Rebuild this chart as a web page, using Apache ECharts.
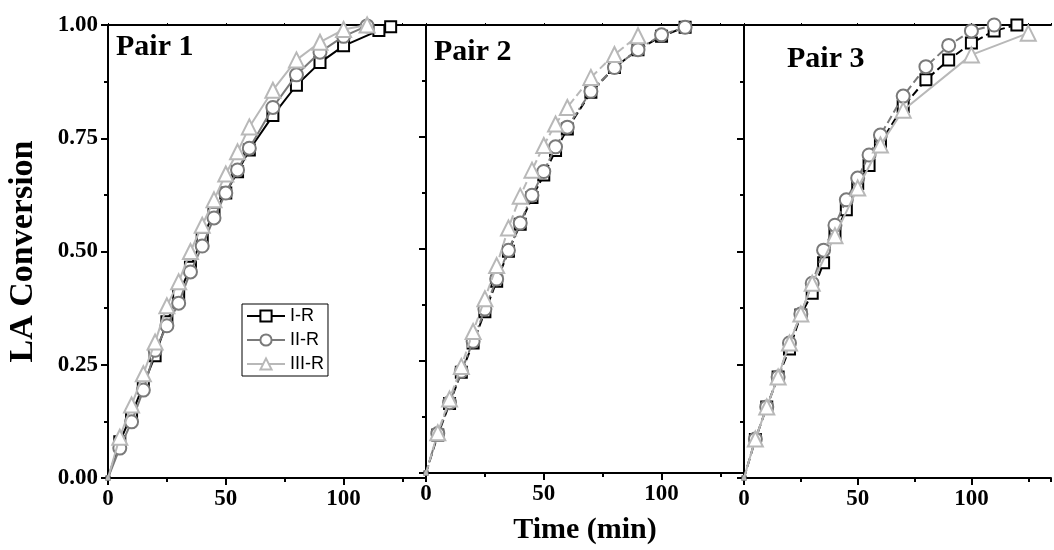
<!DOCTYPE html>
<html><head><meta charset="utf-8">
<script src="https://cdn.jsdelivr.net/npm/echarts@6/dist/echarts.min.js"></script>
<style>html,body{margin:0;padding:0;background:#fff}#c{width:1054px;height:550px}</style>
</head><body><div id="c"></div>
<script>
// ---- data ----
const seriesNames = ['I-R', 'II-R', 'III-R'];
const panelTitles = ['Pair 1', 'Pair 2', 'Pair 3'];
const yTicks = [0, 0.25, 0.5, 0.75, 1.0];
const xTicks = [0, 50, 100];

// Pair 1
const p1_t_I   = [0,5,10,15,20,25,30,35,40,45,50,55,60,70,80,90,100,115,120];
const p1_I     = [0,0.08,0.14,0.205,0.27,0.345,0.405,0.465,0.53,0.585,0.629,0.676,0.724,0.80,0.867,0.917,0.954,0.988,0.996];
const p1_t_II  = [0,5,10,15,20,25,30,35,40,45,50,55,60,70,80,90,100,110];
const p1_II    = [0,0.066,0.124,0.194,0.282,0.336,0.386,0.455,0.512,0.574,0.629,0.68,0.728,0.818,0.89,0.94,0.975,0.998];
const p1_t_III = [0,5,10,15,20,25,30,35,40,45,50,55,60,70,80,90,100,110];
const p1_III   = [0,0.09,0.161,0.23,0.30,0.38,0.433,0.50,0.558,0.614,0.671,0.72,0.775,0.856,0.923,0.962,0.99,1.0];

// Pair 2
const p2_t_I   = [0,5,10,15,20,25,30,35,40,45,50,55,60,70,80,90,100,110];
const p2_I     = [0,0.085,0.155,0.225,0.29,0.36,0.428,0.495,0.555,0.615,0.665,0.72,0.768,0.85,0.905,0.945,0.975,0.995];
const p2_t_II  = [0,5,10,15,20,25,30,35,40,45,50,55,60,70,80,90,100,110];
const p2_II    = [0,0.088,0.157,0.227,0.294,0.366,0.433,0.497,0.558,0.62,0.673,0.728,0.772,0.852,0.905,0.945,0.978,0.995];
const p2_t_III = [0,5,10,15,20,25,30,35,40,45,50,55,60,70,80,90];
const p2_III   = [0,0.09,0.165,0.238,0.316,0.389,0.463,0.547,0.618,0.676,0.731,0.779,0.816,0.883,0.934,0.976];

// Pair 3
const p3_t_I   = [0,5,10,15,20,25,30,35,40,45,50,55,60,70,80,90,100,110,120];
const p3_I     = [0,0.085,0.157,0.223,0.285,0.36,0.408,0.475,0.54,0.592,0.65,0.69,0.74,0.82,0.879,0.923,0.96,0.987,1.0];
const p3_t_II  = [0,5,10,15,20,25,30,35,40,45,50,55,60,70,80,90,100,110];
const p3_II    = [0,0.086,0.157,0.223,0.298,0.362,0.43,0.503,0.558,0.614,0.662,0.713,0.757,0.843,0.908,0.955,0.987,1.0];
const p3_t_III = [0,5,10,15,20,25,30,40,50,60,70,100,125];
const p3_III   = [0,0.086,0.157,0.223,0.298,0.362,0.43,0.535,0.64,0.735,0.812,0.934,0.982];

const panels = [
  [[p1_t_I,p1_I],[p1_t_II,p1_II],[p1_t_III,p1_III]],
  [[p2_t_I,p2_I],[p2_t_II,p2_II],[p2_t_III,p2_III]],
  [[p3_t_I,p3_I],[p3_t_II,p3_II],[p3_t_III,p3_III]]
];

// ---- styles ----
const colors = ['#000000', '#7a7a7a', '#b8b8b8'];
const symbols = ['rect', 'circle', 'triangle'];
const symSizes = [11, 13, 15];
const lineTypes = [
  ['solid', 'solid', 'solid'],
  ['dashed', [8,3,2,3], 'dashed'],
  ['dashed', 'dashed', 'solid']
];
const serif = '"Liberation Serif", "Times New Roman", serif';

const gridLeft = [108, 426, 744];
const gridW = 318;
const grids = gridLeft.map(l => ({left: l, top: 25, width: gridW, height: 453}));

const xAxes = [], yAxes = [], series = [];
for (let g = 0; g < 3; g++) {
  xAxes.push({
    type: 'value', gridIndex: g, min: 0, max: 135, interval: 25, position: 'bottom',
    axisLine: {show: true, onZero: false, lineStyle: {color: '#000', width: 2}},
    axisTick: {show: true, inside: false, length: 4, lineStyle: {color: '#000', width: 2}},
    axisLabel: {show: true, margin: 10, color: '#000', fontFamily: serif, fontWeight: 'bold', fontSize: 23,
      formatter: v => (xTicks.indexOf(v) >= 0 ? String(v) : '')},
    splitLine: {show: false},
    name: g === 1 ? 'Time (min)' : '', nameLocation: 'middle', nameGap: 42,
    nameTextStyle: {color: '#000', fontFamily: serif, fontWeight: 'bold', fontSize: 30}
  });
  xAxes.push({
    type: 'value', gridIndex: g, min: 0, max: 135, interval: 50, position: 'bottom',
    axisLine: {show: false}, axisTick: {show: true, length: 7, lineStyle: {color: '#000', width: 2},
      customValues: xTicks},
    axisLabel: {show: false}, splitLine: {show: false}
  });
  xAxes.push({
    type: 'value', gridIndex: g, min: 0, max: 135, interval: 25, position: 'top',
    axisLine: {show: true, onZero: false, lineStyle: {color: '#000', width: 2}},
    axisTick: {show: true, inside: false, length: 2, lineStyle: {color: '#000', width: 1}},
    axisLabel: {show: false}, splitLine: {show: false}
  });
  yAxes.push({
    type: 'value', gridIndex: g, min: 0, max: 1, interval: 0.25, position: 'left',
    axisLine: {show: true, onZero: false, lineStyle: {color: '#000', width: 2}},
    axisTick: {show: true, inside: false, length: 7, lineStyle: {color: '#000', width: 2}},
    minorTick: {show: true, splitNumber: 2, length: 4, lineStyle: {color: '#000', width: 2}},
    axisLabel: {show: g === 0, margin: 10, color: '#000', fontFamily: serif, fontWeight: 'bold', fontSize: 23,
      formatter: v => v.toFixed(2)},
    splitLine: {show: false}, minorSplitLine: {show: false},
    name: g === 0 ? 'LA Conversion' : '', nameLocation: 'middle', nameGap: 68,
    nameTextStyle: {color: '#000', fontFamily: serif, fontWeight: 'bold', fontSize: 34}
  });
  for (let s = 0; s < 3; s++) {
    const [ts, vs] = panels[g][s];
    series.push({
      type: 'line', name: seriesNames[s], xAxisIndex: g * 3, yAxisIndex: g,
      data: ts.map((t, i) => [t, vs[i]]),
      symbol: symbols[s],
      symbolSize: (val) => (val[0] === 0 ? 3 : symSizes[s]),
      showAllSymbol: true,
      clip: false,
      z: 2 + s,
      lineStyle: {color: colors[s], width: 2, type: lineTypes[g][s]},
      itemStyle: {color: '#fff', borderColor: colors[s], borderWidth: 2},
      emphasis: {disabled: true},
      animation: false
    });
  }
}

const chart = echarts.init(document.getElementById('c'), null, {renderer: 'canvas'});
chart.setOption({
  animation: false,
  backgroundColor: '#fff',
  grid: grids,
  xAxis: xAxes,
  yAxis: yAxes,
  legend: {
    data: seriesNames, orient: 'vertical', left: 242, top: 304,
    backgroundColor: '#fff', borderColor: '#000', borderWidth: 1, borderRadius: 0,
    padding: [3, 4, 3, 4], itemGap: 6, itemWidth: 38, itemHeight: 14,
    textStyle: {color: '#000', fontFamily: '"Liberation Sans", Arial, sans-serif', fontSize: 18},
    selectedMode: false
  },
  graphic: panelTitles.map((t, i) => ({
    type: 'text', left: [116, 434, 787][i], top: [32, 37, 44][i], z: 10,
    style: {text: t, fill: '#000', font: 'bold 30px ' + serif}
  })),
  series: series
});
</script></body></html>
